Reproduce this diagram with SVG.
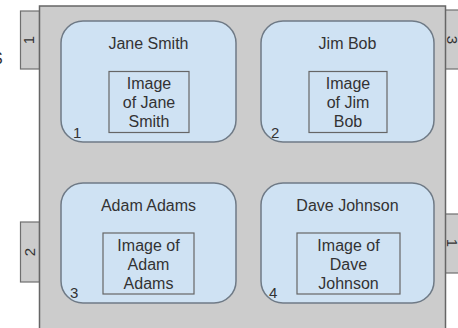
<svg xmlns="http://www.w3.org/2000/svg" width="458" height="328" viewBox="0 0 458 328">
<style>
text{font-family:"Liberation Sans",Arial,sans-serif;font-size:16px;fill:#333;}
.c{text-anchor:middle;}
.tab{fill:#cccccc;stroke:#6f6f6f;stroke-width:1.2;}
.main{fill:#cccccc;stroke:#666;stroke-width:1.5;}
.card{fill:#cfe2f3;stroke:#6f7a86;stroke-width:1.5;}
.img{fill:#cfe2f3;stroke:#666;stroke-width:1.2;}
.num{font-size:15px;}
</style>
<rect width="458" height="328" fill="#ffffff"/>
<text x="-8" y="64">S</text>
<g id="tabs">
<rect class="tab" x="20.5" y="11" width="19" height="58"/>
<text class="c num" transform="translate(29 40) rotate(-90)" y="5">1</text>
<rect class="tab" x="20.5" y="222" width="19" height="60"/>
<text class="c num" transform="translate(30 252) rotate(-90)" y="5">2</text>
<rect class="tab" x="445" y="10" width="24" height="59"/>
<text class="c num" transform="translate(452 40) rotate(90)" y="5">3</text>
<rect class="tab" x="445" y="214" width="24" height="59"/>
<text class="c num" transform="translate(452 243) rotate(90)" y="5">1</text>
</g>
<g id="frame">
<rect class="main" x="39.5" y="6" width="406" height="330"/>
</g>
<g id="connectors"></g>
<g id="node1">
<rect class="card" x="61" y="21" width="175" height="121" rx="22"/>
<text class="c" x="148.5" y="49">Jane Smith</text>
<rect class="img" x="109" y="71.5" width="80" height="61"/>
<text class="c" x="149" y="89">Image</text>
<text class="c" x="149" y="108">of Jane</text>
<text class="c" x="149" y="127">Smith</text>
<text x="73" y="138" class="num">1</text>
</g>
<g id="node2">
<rect class="card" x="261" y="21" width="173" height="121" rx="22"/>
<text class="c" x="347.5" y="49">Jim Bob</text>
<rect class="img" x="309" y="71.5" width="78" height="61"/>
<text class="c" x="348" y="89">Image</text>
<text class="c" x="348" y="108">of Jim</text>
<text class="c" x="348" y="127">Bob</text>
<text x="271" y="138" class="num">2</text>
</g>
<g id="node3">
<rect class="card" x="61" y="183" width="175" height="120" rx="22"/>
<text class="c" x="148.5" y="211">Adam Adams</text>
<rect class="img" x="103" y="233" width="91" height="61"/>
<text class="c" x="148.5" y="251">Image of</text>
<text class="c" x="148.5" y="270">Adam</text>
<text class="c" x="148.5" y="289">Adams</text>
<text x="70" y="298" class="num">3</text>
</g>
<g id="node4">
<rect class="card" x="261" y="183" width="173" height="120" rx="22"/>
<text class="c" x="347.5" y="211">Dave Johnson</text>
<rect class="img" x="297" y="233" width="103" height="61"/>
<text class="c" x="348.5" y="251">Image of</text>
<text class="c" x="348.5" y="270">Dave</text>
<text class="c" x="348.5" y="289">Johnson</text>
<text x="269" y="298" class="num">4</text>
</g>
</svg>
